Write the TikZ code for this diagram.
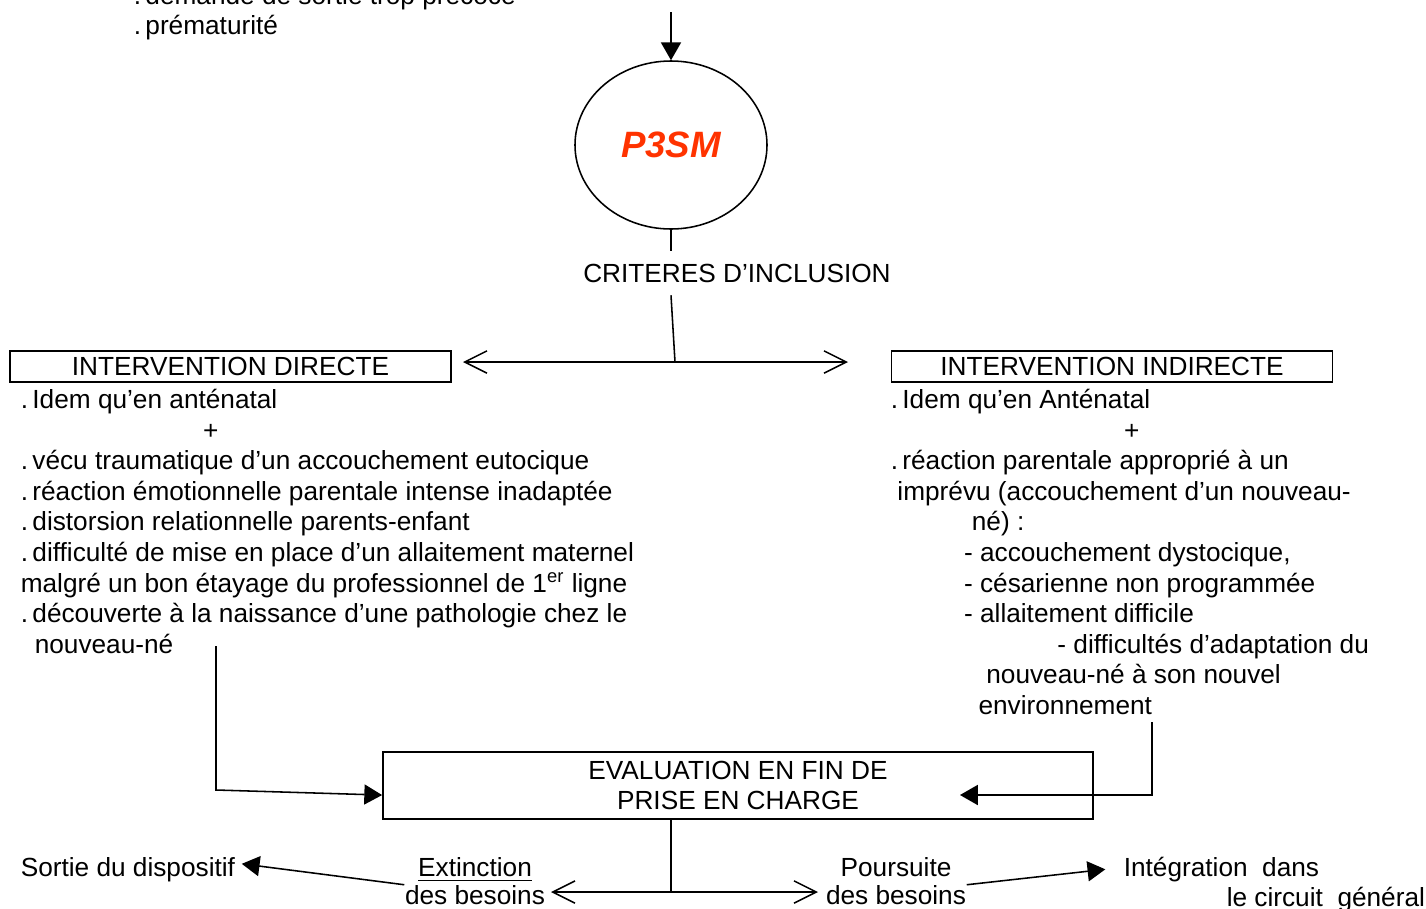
\documentclass[tikz,border=0pt]{standalone}
\usepackage{fontspec}
\setmainfont{Liberation Sans}
\usetikzlibrary{arrows.meta, shapes.geometric}
\definecolor{rouge}{HTML}{FF3300}

\begin{document}
\begin{tikzpicture}[x=0.45pt,y=-0.45pt,line width=0.7pt,
  >={Triangle[length=8pt,width=9pt]},
  font=\fontsize{11.8}{13.77}\selectfont,
  boite/.style={draw,line width=0.8pt,inner sep=0pt,align=center},
  bloc/.style={inner sep=0pt,align=left,anchor=north west},
  mot/.style={inner sep=0pt,anchor=base west},
  ouvert/.style={-{Straight Barb[length=10pt,width=10pt,line width=0.7pt]}}]
\useasboundingbox (0,0) rectangle (1426,909);
% haut
\node[bloc] (motifs) at (133,-16) {.\,demande de sortie trop précoce\\.\,prématurité};
\coordinate (haut) at (671,12);
\node[draw,ellipse,minimum width=86.4pt,minimum height=75.6pt,inner sep=0pt,
  font=\fontsize{16.5}{18}\selectfont\bfseries\itshape,text=rouge] (p3sm) at (671,145) {P3SM};
\draw[->] (haut) -- (p3sm);
\node[inner xsep=0pt,inner ysep=5.5pt] (criteres) at (737,273) {CRITERES D’INCLUSION};
\draw (p3sm) -- (p3sm.south |- criteres.north);
% fourche vers les deux interventions
\coordinate (fourche) at (675,362);
\coordinate (gauche) at (463,362);
\coordinate (droite) at (848,362);
\draw (p3sm.south |- criteres.south) -- (fourche);
\draw[ouvert] (fourche) -- (gauche);
\draw[ouvert] (fourche) -- (droite);
\node[boite,minimum width=198.5pt,minimum height=14pt] (directe) at (230.5,366.5) {INTERVENTION DIRECTE};
\node[boite,minimum width=198.5pt,minimum height=14pt] (indirecte) at (1112,366.5) {INTERVENTION INDIRECTE};
% criteres de chaque intervention
\node[bloc] (critdir) at (20,388.5) {.\,Idem qu’en anténatal\\
\hspace*{82pt}+\\
.\,vécu traumatique d’un accouchement eutocique\\
.\,réaction émotionnelle parentale intense inadaptée\\
.\,distorsion relationnelle parents-enfant\\
.\,difficulté de mise en place d’un allaitement maternel\\
malgré un bon étayage du professionnel de 1\textsuperscript{er} ligne\\
.\,découverte à la naissance d’une pathologie chez le\\
\hspace*{6.3pt}nouveau-né};
\node[bloc] (critind) at (890,388.5) {.\,Idem qu’en Anténatal\\
\hspace*{105pt}+\\
.\,réaction parentale approprié à un\\
\hspace*{3pt}imprévu (accouchement d’un nouveau-\\
\hspace*{36.5pt}né) :\\
\hspace*{33pt}- accouchement dystocique,\\
\hspace*{33pt}- césarienne non programmée\\
\hspace*{33pt}- allaitement difficile\\
\hspace*{75pt}- difficultés d’adaptation du\\
\hspace*{43pt}nouveau-né à son nouvel\\
\hspace*{39.5pt}environnement};
% evaluation
\node[boite,minimum width=319.5pt,minimum height=30pt] (eval) at (738,785.5) {EVALUATION EN FIN DE\\PRISE EN CHARGE};
\coordinate (d1) at (216,646);
\coordinate (d2) at (216,790);
\draw[->] (d1) -- (d2) -- ([yshift=-4.3pt]eval.west);
\coordinate (i1) at (1152,722);
\coordinate (i2) at (1152,795);
\coordinate (i3) at (960,795);
\draw[->] (i1) -- (i2) -- (i3);
% issues
\coordinate (partage) at (671,892);
\coordinate (eg) at (551,892);
\coordinate (ed) at (818,892);
\draw (eval.south -| partage) -- (partage);
\draw[ouvert] (partage) -- (eg);
\draw[ouvert] (partage) -- (ed);
\node[inner sep=0pt,align=center,anchor=north,font=\fontsize{11.8}{12.6}\selectfont] (ext) at (475,857) {\underline{Extinction}\\des besoins};
\node[inner sep=0pt,align=center,anchor=north,font=\fontsize{11.8}{12.6}\selectfont] (pours) at (896,857) {Poursuite\\des besoins};
\node[mot] (sortie) at (20,876.5) {Sortie du dispositif};
\node[mot] (integ) at (1123,876.5) {Intégration\ \ dans};
\node[mot] (circuit) at (1226,906) {le circuit\ \ général};
\draw[->,shorten >=2.7pt] ([yshift=-1.5pt]ext.west) -- ([yshift=3pt]sortie.east);
\draw[->,shorten >=8pt] ([yshift=-1.5pt]pours.east) -- ([yshift=1pt]integ.west);
\end{tikzpicture}
\end{document}
